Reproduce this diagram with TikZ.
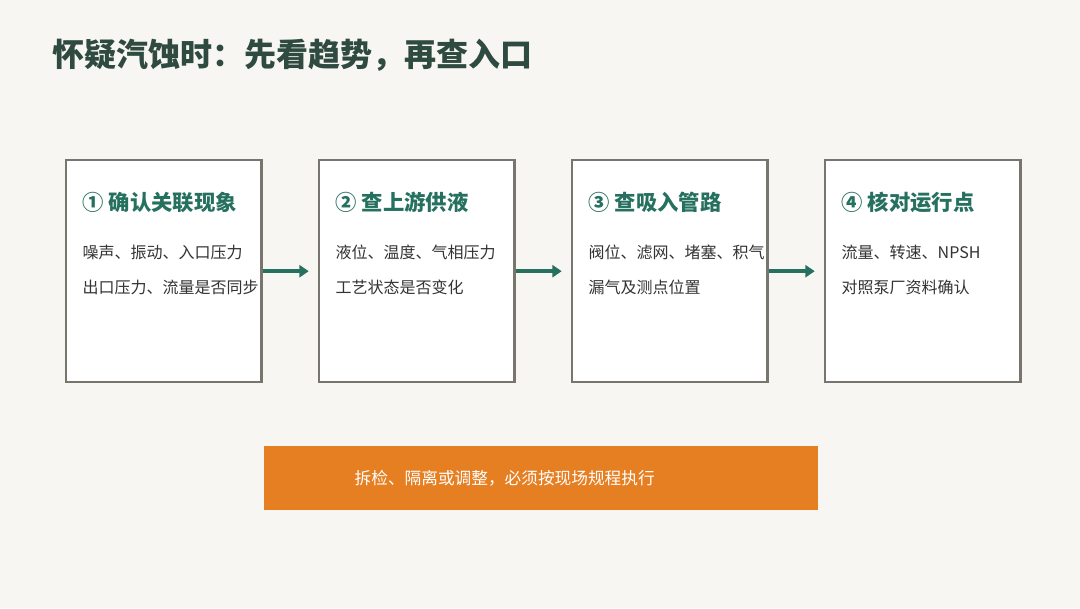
\documentclass[tikz,border=0pt]{standalone}
\usepackage{fontspec}
\setmainfont{Noto Sans CJK SC}
\usetikzlibrary{arrows.meta}
\definecolor{bg}{HTML}{F8F6F2}
\definecolor{ttl}{HTML}{2F4A40}
\definecolor{teal}{HTML}{26705F}
\definecolor{edge}{HTML}{77756E}
\definecolor{org}{HTML}{E67E22}
\definecolor{txt}{HTML}{333333}
\begin{document}
\begin{tikzpicture}[x=0.75pt,y=-0.75pt,
  box/.style={draw=edge,line width=1.8pt,fill=white,minimum width=146.5pt,minimum height=166.5pt,inner sep=0pt,anchor=north west},
  head/.style={anchor=west,text=teal,font=\fontsize{16}{19}\selectfont\bfseries},
  body/.style={anchor=north west,text=txt,font=\fontsize{12}{26.5}\selectfont,align=left},
  arr/.style={draw=teal,line width=3pt,-{Triangle[length=7pt,width=9pt]}}]
\fill[bg] (0,0) rectangle (1080,608);
\node[anchor=west,text=ttl,font=\fontsize{24}{28}\selectfont\bfseries] (title) at (48,55) {怀疑汽蚀时：先看趋势，再查入口};
\foreach \i/\x/\h/\a/\b in {1/64/① 确认关联现象/噪声、振动、入口压力/出口压力、流量是否同步,
  2/317/② 查上游供液/液位、温度、气相压力/工艺状态是否变化,
  3/570/③ 查吸入管路/阀位、滤网、堵塞、积气/漏气及测点位置,
  4/823/④ 核对运行点/流量、转速、NPSH/对照泵厂资料确认}{
  \node[box] (b\i) at (\x+1,159) {};
  \node[head] (h\i) at (\x+14,202) {\h};
  \node[body] (t\i) at (\x+14,240) {\a\\\b};
}
\foreach \i in {1,2,3}{
  \draw[arr] (b\i.east) -- ++(46,0) coordinate (e\i);
}
\node[fill=org,minimum width=415pt,minimum height=48pt,inner sep=0pt,anchor=north west] (bar) at (264,446) {};
\node[anchor=west,text=white,font=\fontsize{12.5}{14}\selectfont] (bt) at (350,478) {拆检、隔离或调整，必须按现场规程执行};
\end{tikzpicture}
\end{document}
